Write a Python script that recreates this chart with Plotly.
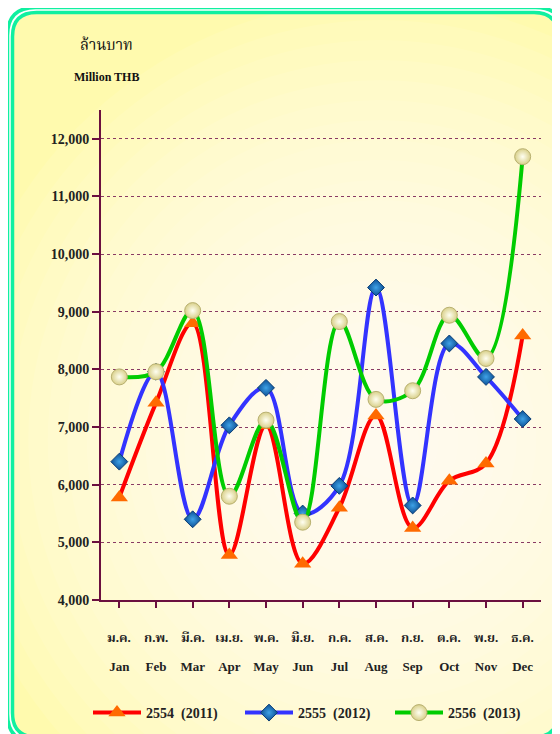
import plotly.graph_objects as go

months_en = ["Jan", "Feb", "Mar", "Apr", "May", "Jun", "Jul", "Aug", "Sep", "Oct", "Nov", "Dec"]
months_th = ["ม.ค.", "ก.พ.", "มี.ค.", "เม.ย.", "พ.ค.", "มิ.ย.", "ก.ค.", "ส.ค.", "ก.ย.", "ต.ค.", "พ.ย.", "ธ.ค."]

y2554 = [5780, 7420, 8800, 4780, 7030, 4630, 5600, 7200, 5250, 6070, 6370, 8590]
y2555 = [6400, 7960, 5400, 7030, 7680, 5500, 5980, 9420, 5640, 8450, 7870, 7140]
y2556 = [7870, 7960, 9020, 5800, 7120, 5350, 8830, 7480, 7630, 8940, 8190, 11690]

names = ["2554\u00a0\u00a0(2011)", "2555\u00a0\u00a0(2012)", "2556\u00a0\u00a0(2013)"]

# page body has an 8px margin: figure is placed at (8, 8) in the window
OFF = 8
W, H = 560 - OFF, 734 - OFF
L, R, T, B = 101, 541, 110, 600   # screen coordinates of the plot area

def px(x):
    return (x - L) / (R - L)

def py(y):
    return (B - y) / (B - T)

SERIF = "Liberation Serif, Times New Roman, Noto Serif Thai, Noto Sans Thai, serif"
AXC = "#6B0F3F"

fig = go.Figure()
xs = list(range(12))
fig.add_trace(go.Scatter(
    x=xs, y=y2554, name=names[0], mode="lines+markers", legend="legend",
    line=dict(color="#FF0000", width=4, shape="spline", smoothing=1),
    marker=dict(symbol="triangle-up", size=15, color="#FF6A00", line=dict(width=0)),
))
fig.add_trace(go.Scatter(
    x=xs, y=y2555, name=names[1], mode="lines+markers", legend="legend2",
    line=dict(color="#3333FF", width=4, shape="spline", smoothing=1),
    marker=dict(symbol="diamond", size=13, color="#0B4F95",
                gradient=dict(type="radial", color="#3FA2E6"),
                line=dict(width=1, color="#0A3D75")),
))
fig.add_trace(go.Scatter(
    x=xs, y=y2556, name=names[2], mode="lines+markers", legend="legend3",
    line=dict(color="#00CC00", width=4, shape="spline", smoothing=1),
    marker=dict(symbol="circle", size=16, color="#D9D08A",
                gradient=dict(type="radial", color="#FFFFF2"),
                line=dict(width=1, color="#B8B070")),
))

shapes = []
def rrect(x0, y0, x1, y1, r):
    pts = [
        f"M {px(x0 + r)},{py(y0)}",
        f"L {px(x1 - r)},{py(y0)}",
        f"Q {px(x1)},{py(y0)} {px(x1)},{py(y0 + r)}",
        f"L {px(x1)},{py(y1 - r)}",
        f"Q {px(x1)},{py(y1)} {px(x1 - r)},{py(y1)}",
        f"L {px(x0 + r)},{py(y1)}",
        f"Q {px(x0)},{py(y1)} {px(x0)},{py(y1 - r)}",
        f"L {px(x0)},{py(y0 + r)}",
        f"Q {px(x0)},{py(y0)} {px(x0 + r)},{py(y0)} Z",
    ]
    return " ".join(pts)

shapes.append(dict(type="path", xref="paper", yref="paper", layer="below",
                   path=rrect(12.5, 12.5, 558, 737, 24), fillcolor="#FFFAAE",
                   line=dict(width=0)))
cx, cy = 380, 440
n = 22
for i in range(n):
    rx = 430 * (1 - i / n)
    ry = 440 * (1 - i / n)
    shapes.append(dict(type="circle", xref="paper", yref="paper", layer="below",
                       x0=px(cx - rx), x1=px(cx + rx), y0=py(cy + ry), y1=py(cy - ry),
                       fillcolor="rgba(255,255,255,0.085)", line=dict(width=0)))
shapes.append(dict(type="path", xref="paper", yref="paper", layer="below",
                   path=rrect(7.5, 7.5, 563.5, 742, 28), fillcolor="rgba(0,0,0,0)",
                   line=dict(color="#10F0A0", width=3.5)))
shapes.append(dict(type="path", xref="paper", yref="paper", layer="below",
                   path=rrect(12.5, 12.5, 558, 737, 24), fillcolor="rgba(0,0,0,0)",
                   line=dict(color="#10F0A0", width=3.5)))

annotations = [
    dict(text="ล้านบาท", x=px(106), y=py(45), xref="paper", yref="paper",
         xanchor="center", yanchor="middle",
         showarrow=False, font=dict(family=SERIF, size=15, color="#111")),
    dict(text="<b>Million THB</b>", x=px(106), y=py(77), xref="paper", yref="paper",
         xanchor="center", yanchor="middle",
         showarrow=False, font=dict(family=SERIF, size=12, color="#111")),
]
for i, th in enumerate(months_th):
    annotations.append(dict(text=f"<b>{th}</b>", x=i, y=py(637), xref="x", yref="paper",
                            xanchor="center", yanchor="middle",
                            showarrow=False, font=dict(family=SERIF, size=13, color="#222")))

def leg(xpx):
    return dict(orientation="h", x=px(xpx), xanchor="left", y=py(713), yanchor="middle",
                font=dict(family=SERIF, size=14, color="#222", weight="bold"),
                itemwidth=48, bgcolor="rgba(0,0,0,0)", borderwidth=0)

fig.update_layout(
    width=W, height=H,
    margin=dict(l=L - OFF, r=W - (R - OFF), t=T - OFF, b=H - (B - OFF), autoexpand=False),
    paper_bgcolor="white", plot_bgcolor="rgba(0,0,0,0)",
    shapes=shapes, annotations=annotations,
    showlegend=True,
    legend=leg(88), legend2=leg(240), legend3=leg(390),
    xaxis=dict(range=[-0.5, 11.5], tickmode="array", tickvals=xs, ticktext=months_en,
               tickson="boundaries", ticks="outside", ticklen=6, tickwidth=2, tickcolor=AXC,
               showline=True, linecolor=AXC, linewidth=2, showgrid=False, zeroline=False,
               ticklabelstandoff=47, automargin=False,
               tickfont=dict(family=SERIF, size=13, color="#222", weight="bold")),
    yaxis=dict(range=[4000, 12500], tickmode="linear", tick0=4000, dtick=1000,
               tickformat=",d", ticks="outside", ticklen=7, tickwidth=2, tickcolor=AXC,
               showline=True, linecolor=AXC, linewidth=2, zeroline=False, automargin=False,
               showgrid=True, gridcolor="#8A3A64", gridwidth=1, griddash="dot",
               tickfont=dict(family=SERIF, size=14, color="#222", weight="bold")),
)

fig.write_html("out.html")
